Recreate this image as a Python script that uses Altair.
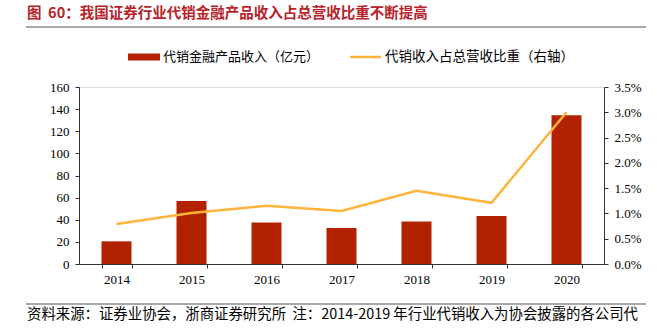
import altair as alt
import pandas as pd

years = ["2014", "2015", "2016", "2017", "2018", "2019", "2020"]
revenue = [20.5, 57.0, 37.5, 32.5, 38.5, 43.5, 134.5]
share = [0.0079, 0.0101, 0.0115, 0.0105, 0.0145, 0.0121, 0.0300]

title_text = "图\u00a0\u00a060：我国证券行业代销金融产品收入占总营收比重不断提高"
legend_bar = "代销金融产品收入（亿元）"
legend_line = "代销收入占总营收比重（右轴）"
footnote = "资料来源：证券业协会，浙商证券研究所\u00a0\u00a0注：2014-2019 年行业代销收入为协会披露的各公司代"

df = pd.DataFrame({"year": years, "revenue": revenue, "share": share})

W, H = 525, 177
CJK = "Noto Sans CJK SC"
NUM = "Liberation Serif"
AX = "#333333"
BAR = "#B22200"
LINE = "#FFB43C"
TITLE_C = "#B8232B"

xenc = alt.X(
    "year:N",
    sort=years,
    scale=alt.Scale(paddingInner=0.6, paddingOuter=0.3),
    axis=alt.Axis(title=None, labelAngle=0, tickBand="extent", tickSize=4,
                  labelPadding=5, domainColor=AX, tickColor=AX,
                  labelFont=NUM, labelFontSize=13, labelColor="#000"),
)

base = alt.Chart(df)

bars = base.mark_bar(color=BAR).encode(
    x=xenc,
    y=alt.Y("revenue:Q", scale=alt.Scale(domain=[0, 160], nice=False),
            axis=alt.Axis(title=None, values=[0, 20, 40, 60, 80, 100, 120, 140, 160],
                          grid=False, tickSize=4, labelPadding=6, domainColor=AX,
                          tickColor=AX, labelFont=NUM, labelFontSize=13,
                          labelColor="#000")),
)

line = base.mark_line(color=LINE, strokeWidth=2.5).encode(
    x=alt.X("year:N", sort=years),
    y=alt.Y("share:Q", scale=alt.Scale(domain=[0, 0.035], nice=False),
            axis=alt.Axis(title=None, orient="right", format=".1%",
                          values=[0, 0.005, 0.01, 0.015, 0.02, 0.025, 0.03, 0.035],
                          grid=False, tickSize=4, labelPadding=6, domainColor=AX,
                          tickColor=AX, labelFont=NUM, labelFontSize=13,
                          labelColor="#000")),
)

one = pd.DataFrame({"k": [0]})


def txt(s, x, y, size, color="#000", weight="normal", font=CJK):
    return alt.Chart(pd.DataFrame({"t": [s]})).mark_text(
        align="left", baseline="middle", font=font, fontSize=size,
        fontWeight=weight, color=color,
    ).encode(text="t:N", x=alt.value(x), y=alt.value(y))


def hrule(x1, x2, y, color, width):
    return alt.Chart(one).mark_rule(color=color, strokeWidth=width).encode(
        x=alt.value(x1), x2=alt.value(x2), y=alt.value(y))


annot = [
    txt(title_text, -52, -73, 14.5, TITLE_C, "bold"),
    hrule(-53, 567, -60, "#555555", 1.2),
    hrule(49, 81, -30, BAR, 7),
    txt(legend_bar, 84, -30, 13),
    hrule(271, 302, -30, LINE, 2.5),
    txt(legend_line, 306, -30, 13.5),
    hrule(-53, 567, 217, "#555555", 1.2),
    txt(footnote, -52, 228, 14.4),
]

chart = alt.layer(bars, line, *annot).resolve_scale(y="independent").properties(
    width=W, height=H,
    autosize=alt.AutoSizeParams(type="none"),
    padding={"left": 79, "top": 87, "right": 53, "bottom": 72},
).configure_view(stroke=None).configure(background="white")

chart.save("out.html", embed_options={"renderer": "svg", "actions": False})
